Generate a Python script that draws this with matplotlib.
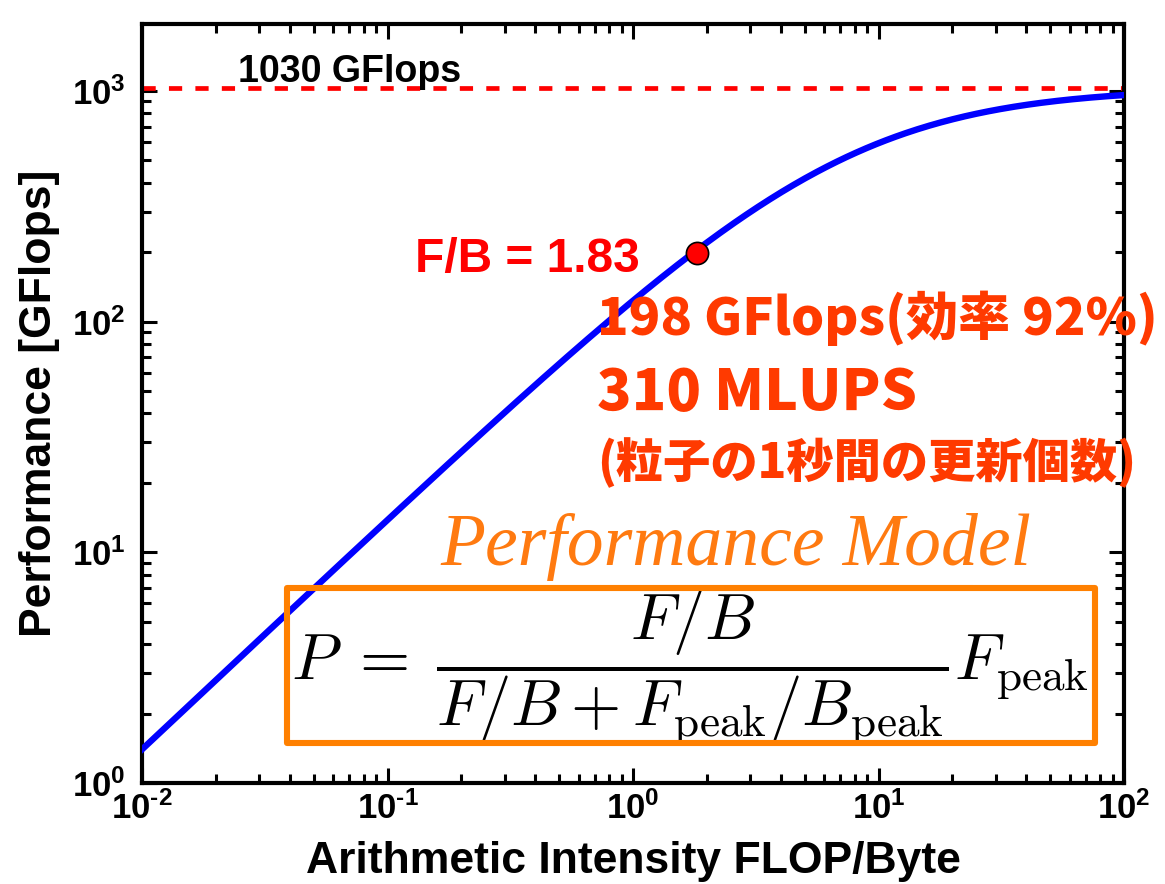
import matplotlib
matplotlib.use('Agg')
import matplotlib.pyplot as plt
import numpy as np
from matplotlib.ticker import LogLocator, FuncFormatter, NullFormatter
from matplotlib.patches import Rectangle

# ---------------- data ----------------
F_peak = 1030.0          # GFlops (peak, dashed line)
B_peak = 140.0           # GB/s
x_range = [1e-2, 1e2]
y_range = [1.0, 1950.0]
x_ticks = [1e-2, 1e-1, 1e0, 1e1, 1e2]
y_ticks = [1e0, 1e1, 1e2, 1e3]
point_fb = [1.83]
point_perf = [198.0]
peak_label = "1030 GFlops"
point_label = "F/B = 1.83"
result_lines = ["198 GFlops(効率 92%)", "310 MLUPS", "(粒子の1秒間の更新個数)"]
model_title = "Performance Model"
model_formula = (r"$P\;=\;\dfrac{F/B}{F/B + F_{\rm peak}/B_{\rm peak}}"
                 r"F_{\rm peak}$")
xlabel = "Arithmetic Intensity FLOP/Byte"
ylabel = "Performance [GFlops]"

# model curve (as stated by the chart's own formula)
fb = np.logspace(np.log10(x_range[0]), np.log10(x_range[1]), 500)
perf = fb / (fb + F_peak / B_peak) * F_peak

# ---------------- style ----------------
plt.rcParams['font.family'] = ['Liberation Sans', 'DejaVu Sans']
plt.rcParams['mathtext.fontset'] = 'custom'
plt.rcParams['mathtext.rm'] = 'Liberation Sans:bold'
plt.rcParams['mathtext.bf'] = 'Liberation Sans:bold'
plt.rcParams['mathtext.it'] = 'Liberation Sans:bold:italic'

W, H = 1165, 884
fig = plt.figure(figsize=(W / 100, H / 100), dpi=100)
L, R, T, B = 142, 1124, 24, 783
ax = fig.add_axes([L / W, 1 - B / H, (R - L) / W, (B - T) / H])


def px(x, y):
    return x / W, 1 - y / H


ax.set_xscale('log')
ax.set_yscale('log')
ax.set_xlim(*x_range)
ax.set_ylim(*y_range)

ax.plot(fb, perf, color='#0000FF', lw=4.6, zorder=3)
ax.axhline(F_peak, color='#FF0000', lw=3.4, ls=(0, (2.8, 2.8)), zorder=2)
ax.plot(point_fb, point_perf, 'o', ms=16, mfc='#FF0000', mec='black',
        mew=1.2, zorder=4)

ax.xaxis.set_minor_locator(LogLocator(base=10, subs=np.arange(2, 10), numticks=20))
ax.yaxis.set_minor_locator(LogLocator(base=10, subs=np.arange(2, 10), numticks=20))
ax.set_xticks(x_ticks)
ax.set_yticks(y_ticks)


def logfmt(v, p):
    e = int(round(np.log10(v)))
    if e < 0:
        return r'$\mathbf{10^{\text{-}%d}}$' % (-e)
    return r'$\mathbf{10^{%d}}$' % e


fmt = FuncFormatter(logfmt)
ax.xaxis.set_major_formatter(fmt)
ax.yaxis.set_major_formatter(fmt)
ax.xaxis.set_minor_formatter(NullFormatter())
ax.yaxis.set_minor_formatter(NullFormatter())

for s in ax.spines.values():
    s.set_linewidth(3.0)
ax.tick_params(which='both', direction='in', top=True, right=True, width=2.2,
               color='black')
ax.tick_params(which='major', length=11)
ax.tick_params(which='minor', length=6.5)
ax.tick_params(axis='x', which='major', labelsize=25, pad=6)
ax.tick_params(axis='y', which='major', labelsize=25, pad=12)

ax.set_xlabel(xlabel, fontsize=32, fontweight='bold')
ax.set_ylabel(ylabel, fontsize=32, fontweight='bold')
ax.xaxis.set_label_coords(0.5, (B - 841) / (B - T))
ax.yaxis.set_label_coords((60 - L) / (R - L), 0.5)

# ---------------- annotations ----------------
fig.text(*px(238, 82), peak_label, fontsize=27, fontweight='bold',
         color='black', ha='left', va='baseline')
fig.text(*px(415, 272), point_label, fontsize=34.5, fontweight='bold',
         color='#FF0000', ha='left', va='baseline')

cjk = ['Noto Sans CJK JP', 'DejaVu Sans']
fig.text(*px(597, 335), result_lines[0], fontsize=37.5, fontweight='heavy',
         color='#FF3A00', ha='left', va='baseline', family=cjk)
fig.text(*px(597, 410), result_lines[1], fontsize=41, fontweight='heavy',
         color='#FF3A00', ha='left', va='baseline', family=cjk)
fig.text(*px(597, 478), result_lines[2], fontsize=34, fontweight='heavy',
         color='#FF3A00', ha='left', va='baseline', family=cjk)

fig.text(*px(440, 565), model_title, fontsize=53, style='italic',
         color='#FF7A10', ha='left', va='baseline',
         family=['Liberation Serif', 'DejaVu Serif'])

box = Rectangle(px(287, 743), (1095 - 287) / W, (743 - 588) / H,
                transform=fig.transFigure, fill=False, edgecolor='#FF8000',
                lw=4.4, joinstyle='round', zorder=5)
fig.patches.append(box)
fig.text(*px(690, 668), model_formula, fontsize=46.5, color='black',
         ha='center', va='center', math_fontfamily='cm')

fig.savefig('out.png', dpi=100)
